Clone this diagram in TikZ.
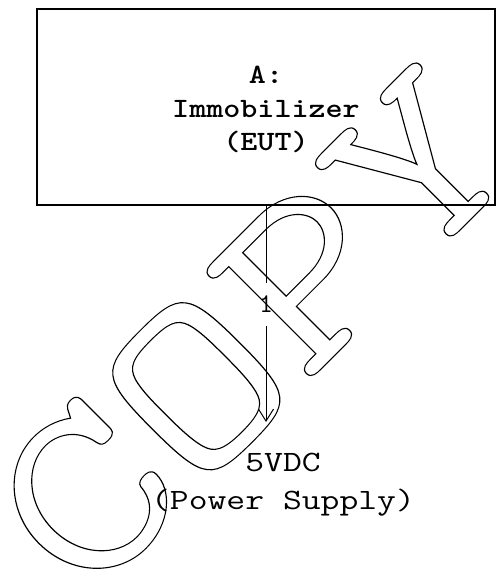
\documentclass[tikz,border=0pt]{standalone}
\usepackage{graphicx}
\usetikzlibrary{arrows.meta}
\newcommand\hs[2]{\scalebox{#1}[1]{#2}}
\tikzset{
  boxstyle/.style={draw, line width=1.6pt, minimum width=458pt, minimum height=196pt, inner sep=0pt, outer sep=0pt},
  boldtxt/.style={font=\fontsize{28}{33}\selectfont\ttfamily\bfseries, anchor=base, inner sep=0pt},
  regtxt/.style={font=\fontsize{29.5}{38}\selectfont\ttfamily, anchor=base, inner sep=0pt},
  wire/.style={line width=1pt},
  pinlabel/.style={font=\fontsize{27}{27}\selectfont\ttfamily, inner sep=0pt, minimum height=43pt},
  watermark/.style={font=\fontsize{249}{249}\selectfont\ttfamily, rotate=45, anchor=base, inner sep=0pt},
}
\begin{document}
\begin{tikzpicture}[x=1pt,y=-1pt]
\useasboundingbox (0,0) rectangle (499,576);
\fill[white] (0,0) rectangle (499,576);
\node[boxstyle] (eut) at (266,107) {};
\node[boldtxt] (ta) at (266,83) {\hs{1.16}{A:}};
\node[boldtxt] (tb) at (266,117) {\hs{1.16}{Immobilizer}};
\node[boldtxt] (tc) at (266,150) {\hs{1.16}{(EUT)}};
\node[pinlabel] (pin) at (266,304.5) {1};
\coordinate (tip) at (266,422);
\draw[wire] (eut.south) -- (pin.north);
\draw[wire,-{Straight Barb[length=12pt,width=15pt]}] (pin.south) -- (tip);
\node[regtxt] (ps1) at (283,471) {\hs{1.24}{5VDC}};
\node[regtxt] (ps2) at (283,509) {\hs{1.24}{(Power Supply)}};
\node[watermark] (wm) at (305.5,384.6) {\special{pdf:literal direct 1 Tr 1 w}\hs{1.22}{COPY}\special{pdf:literal direct 0 Tr}};
\end{tikzpicture}
\end{document}
